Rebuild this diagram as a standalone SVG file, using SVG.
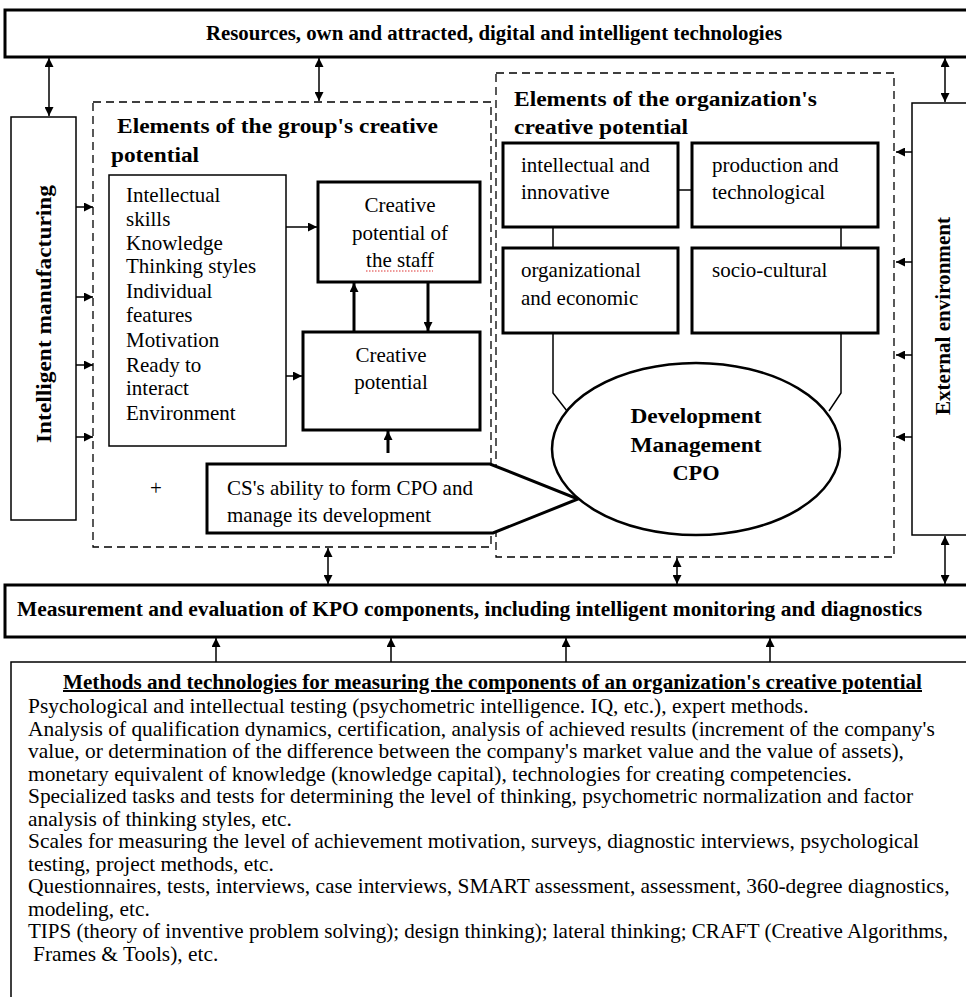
<svg xmlns="http://www.w3.org/2000/svg" width="966" height="997" viewBox="0 0 966 997">
<defs>
<marker id="ah" viewBox="0 0 10 10" refX="10" refY="5" markerWidth="10" markerHeight="9" markerUnits="userSpaceOnUse" orient="auto-start-reverse">
<path d="M0,0 L10,5 L0,10 z" fill="#000"/>
</marker>
<style>
text{font-family:"Liberation Serif","Times New Roman",serif;fill:#000}
.r{font-size:21px}
.m{font-size:21.4px}
.b{font-size:20px;font-weight:bold}
.thin{fill:#fff;stroke:#000;stroke-width:1.5}
.thick{fill:#fff;stroke:#000;stroke-width:3}
.dash{fill:none;stroke:#000;stroke-width:1.3;stroke-dasharray:8 5}
.ln{fill:none;stroke:#000;stroke-width:1.5}
.a1{fill:none;stroke:#000;stroke-width:1.5;marker-end:url(#ah)}
.a2{fill:none;stroke:#000;stroke-width:1.5;marker-start:url(#ah);marker-end:url(#ah)}
.a3{fill:none;stroke:#000;stroke-width:3;marker-end:url(#ah)}
</style>
</defs>
<rect width="966" height="997" fill="#fff"/>

<g id="resources">
<rect class="thick" x="5" y="10" width="975" height="47"/>
<text class="b" x="206" y="40" textLength="576" lengthAdjust="spacingAndGlyphs">Resources, own and attracted, digital and intelligent technologies</text>
</g>

<g id="intelligent-manufacturing">
<rect class="thin" x="11" y="117" width="65" height="403"/>
<text class="b" transform="translate(51,314) rotate(-90)" text-anchor="middle" textLength="258" lengthAdjust="spacingAndGlyphs">Intelligent manufacturing</text>
</g>

<g id="external-environment">
<rect class="thin" x="912" y="103" width="68" height="432"/>
<text class="b" transform="translate(950,316) rotate(-90)" text-anchor="middle" textLength="198" lengthAdjust="spacingAndGlyphs">External environment</text>
</g>

<g id="group-potential">
<rect class="dash" x="93" y="102" width="398" height="445"/>
<text class="b" x="117" y="133" textLength="321" lengthAdjust="spacingAndGlyphs">Elements of the group's creative</text>
<text class="b" x="111" y="162" textLength="88" lengthAdjust="spacingAndGlyphs">potential</text>
<text class="r" x="150" y="495" font-size="22">+</text>
</g>

<g id="org-potential">
<rect class="dash" x="496" y="73" width="398" height="484"/>
<text class="b" x="514" y="106" textLength="303" lengthAdjust="spacingAndGlyphs">Elements of the organization's</text>
<text class="b" x="514" y="134" textLength="174" lengthAdjust="spacingAndGlyphs">creative potential</text>
</g>

<g id="attributes">
<rect class="thin" x="109" y="175" width="177" height="271"/>
<text class="r" x="126" y="202">Intellectual</text>
<text class="r" x="126" y="226">skills</text>
<text class="r" x="126" y="250">Knowledge</text>
<text class="r" x="126" y="273">Thinking styles</text>
<text class="r" x="126" y="298">Individual</text>
<text class="r" x="126" y="322">features</text>
<text class="r" x="126" y="347">Motivation</text>
<text class="r" x="126" y="372">Ready to</text>
<text class="r" x="126" y="395">interact</text>
<text class="r" x="126" y="420">Environment</text>
</g>

<g id="staff-potential">
<rect class="thick" x="318" y="182" width="162" height="100"/>
<text class="r" x="400" y="212" text-anchor="middle">Creative</text>
<text class="r" x="400" y="240" text-anchor="middle">potential of</text>
<text class="r" x="400" y="267" text-anchor="middle">the staff</text>
<line x1="366" y1="271" x2="433" y2="271" stroke="#d33" stroke-width="1" stroke-dasharray="1.5 1.5"/>
</g>

<g id="creative-potential">
<rect class="thick" x="303" y="332" width="177" height="98"/>
<text class="r" x="391" y="362" text-anchor="middle">Creative</text>
<text class="r" x="391" y="389" text-anchor="middle">potential</text>
</g>

<g id="intellectual-innovative">
<rect class="thick" x="503" y="143" width="175" height="84"/>
<text class="r" x="521" y="172">intellectual and</text>
<text class="r" x="521" y="199">innovative</text>
</g>
<g id="production-technological">
<rect class="thick" x="692" y="143" width="186" height="84"/>
<text class="r" x="712" y="172">production and</text>
<text class="r" x="712" y="199">technological</text>
</g>
<g id="organizational-economic">
<rect class="thick" x="503" y="248" width="175" height="85"/>
<text class="r" x="521" y="277">organizational</text>
<text class="r" x="521" y="305">and economic</text>
</g>
<g id="socio-cultural">
<rect class="thick" x="692" y="248" width="186" height="85"/>
<text class="r" x="712" y="277">socio-cultural</text>
</g>

<g id="connectors">
<line class="a2" x1="49" y1="58" x2="49" y2="116"/>
<line class="a2" x1="319" y1="58" x2="319" y2="101"/>
<line class="a2" x1="945" y1="58" x2="945" y2="102"/>
<line class="a1" x1="76" y1="207" x2="93" y2="207"/>
<line class="a1" x1="76" y1="297" x2="93" y2="297"/>
<line class="a1" x1="76" y1="365" x2="93" y2="365"/>
<line class="a1" x1="76" y1="437" x2="93" y2="437"/>
<line class="a1" x1="912" y1="152" x2="896" y2="152"/>
<line class="a1" x1="912" y1="262" x2="896" y2="262"/>
<line class="a1" x1="912" y1="355" x2="896" y2="355"/>
<line class="a1" x1="912" y1="437" x2="896" y2="437"/>
<line class="a1" x1="286" y1="227" x2="317" y2="227"/>
<line class="a1" x1="286" y1="376" x2="302" y2="376"/>
<line class="a3" x1="354" y1="331" x2="354" y2="283"/>
<line class="a3" x1="428" y1="283" x2="428" y2="331"/>
<line class="a3" x1="388" y1="453" x2="388" y2="431"/>
<line class="ln" x1="678" y1="190" x2="692" y2="190"/>
<line class="ln" x1="553" y1="227" x2="553" y2="248"/>
<line class="ln" x1="841" y1="227" x2="841" y2="248"/>
<path class="ln" d="M553,333 L553,393 L567,411"/>
<path class="ln" d="M841,333 L841,393 L829,411"/>
<line class="a2" x1="328" y1="548" x2="328" y2="584"/>
<line class="a2" x1="677" y1="558" x2="677" y2="584"/>
<line class="a2" x1="945" y1="536" x2="945" y2="584"/>
<line class="a1" x1="216" y1="662" x2="216" y2="638"/>
<line class="a1" x1="391" y1="662" x2="391" y2="638"/>
<line class="a1" x1="566" y1="662" x2="566" y2="638"/>
<line class="a1" x1="770" y1="662" x2="770" y2="638"/>
</g>

<g id="cs-ability">
<path class="thick" d="M207,464 L490,464 L578,499 L493,533 L207,533 Z"/>
<text class="r" x="227" y="495">CS's ability to form CPO and</text>
<text class="r" x="227" y="522">manage its development</text>
</g>

<g id="development-management">
<ellipse cx="696" cy="449" rx="144" ry="86" fill="#fff" stroke="#000" stroke-width="2.5"/>
<text class="b" x="696" y="423" text-anchor="middle" font-size="21" textLength="131" lengthAdjust="spacingAndGlyphs">Development</text>
<text class="b" x="696" y="452" text-anchor="middle" font-size="21" textLength="131" lengthAdjust="spacingAndGlyphs">Management</text>
<text class="b" x="696" y="480" text-anchor="middle" font-size="21" textLength="47" lengthAdjust="spacingAndGlyphs">CPO</text>
</g>

<g id="measurement">
<rect class="thick" x="5" y="585" width="975" height="52"/>
<text class="b" x="17" y="616" textLength="905" lengthAdjust="spacingAndGlyphs">Measurement and evaluation of KPO components, including intelligent monitoring and diagnostics</text>
</g>

<g id="methods">
<rect x="11" y="662" width="975" height="350" fill="none" stroke="#000" stroke-width="1.5"/>
<text class="b" x="63" y="689" textLength="859" lengthAdjust="spacingAndGlyphs" text-decoration="underline">Methods and technologies for measuring the components of an organization's creative potential</text>
<text class="m" x="28" y="713">Psychological and intellectual testing (psychometric intelligence. IQ, etc.), expert methods.</text>
<text class="m" x="28" y="736">Analysis of qualification dynamics, certification, analysis of achieved results (increment of the company's</text>
<text class="m" x="28" y="758">value, or determination of the difference between the company's market value and the value of assets),</text>
<text class="m" x="28" y="781">monetary equivalent of knowledge (knowledge capital), technologies for creating competencies.</text>
<text class="m" x="28" y="803">Specialized tasks and tests for determining the level of thinking, psychometric normalization and factor</text>
<text class="m" x="28" y="826">analysis of thinking styles, etc.</text>
<text class="m" x="28" y="848">Scales for measuring the level of achievement motivation, surveys, diagnostic interviews, psychological</text>
<text class="m" x="28" y="871">testing, project methods, etc.</text>
<text class="m" x="28" y="893">Questionnaires, tests, interviews, case interviews, SMART assessment, assessment, 360-degree diagnostics,</text>
<text class="m" x="28" y="916">modeling, etc.</text>
<text class="m" x="28" y="938" textLength="920" lengthAdjust="spacingAndGlyphs">TIPS (theory of inventive problem solving); design thinking); lateral thinking; CRAFT (Creative Algorithms,</text>
<text class="m" x="33" y="961">Frames &amp; Tools), etc.</text>
</g>
</svg>
